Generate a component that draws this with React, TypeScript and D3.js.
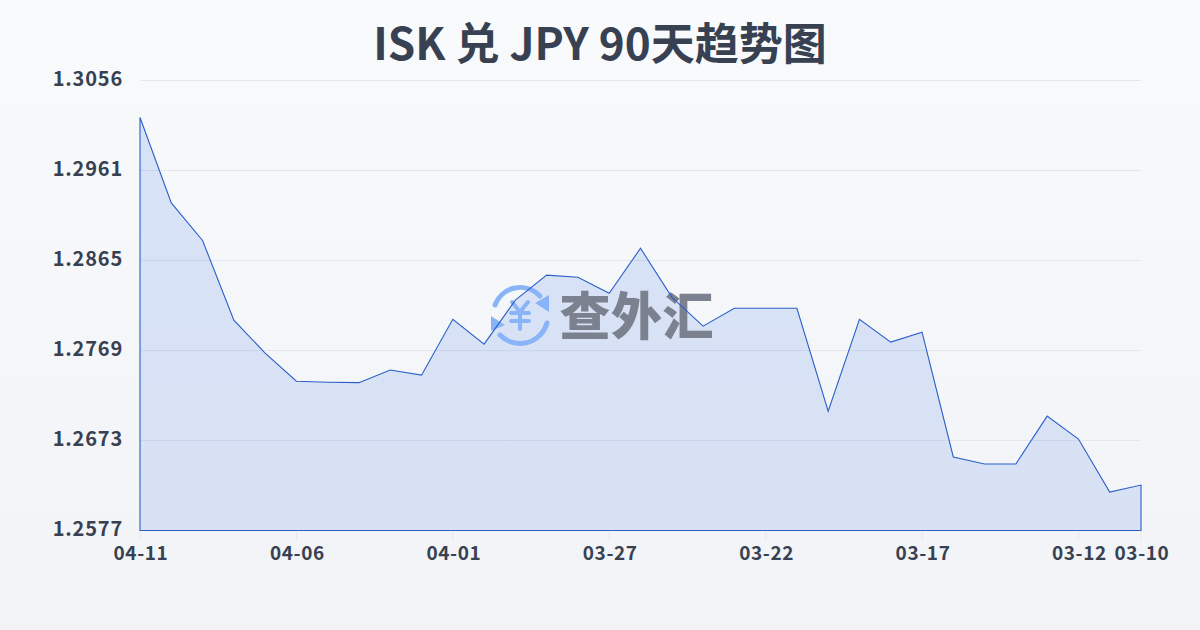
import React, { useEffect } from "react";
import * as d3 from "d3";

const titleText = "ISK 兑 JPY 90天趋势图";
const dates = ["04-11","04-10","04-09","04-08","04-07","04-06","04-05","04-04","04-03","04-02","04-01","03-31","03-30","03-29","03-28","03-27","03-26","03-25","03-24","03-23","03-22","03-21","03-20","03-19","03-18","03-17","03-16","03-15","03-14","03-13","03-12","03-11","03-10"];
const values = [1.3017,1.2926,1.2886,1.2801,1.2766,1.2736,1.2735,1.27345,1.2748,1.27425,1.2802,1.27755,1.28224,1.2849,1.28468,1.28298,1.28777,1.28256,1.27947,1.28138,1.28138,1.28138,1.27042,1.2802,1.27777,1.27883,1.26553,1.26478,1.26478,1.26989,1.26744,1.2618,1.26254];
const yTicks = [1.30564,1.296052,1.286464,1.276876,1.267288,1.2577];
const xTickLabels = ["04-11","04-06","04-01","03-27","03-22","03-17","03-12","03-10"];
const watermarkText = ["查","外","汇"];

const W = 1200, H = 630;
const L = 140, R = 1141, T = 80.5, B = 530.5;
const FONT = "'Noto Sans CJK SC',sans-serif";

export default function App() {
  useEffect(() => { document.body.style.margin = "0"; }, []);
  const x = d3.scalePoint<string>().domain(dates).range([L, R]);
  const y = d3.scaleLinear().domain([yTicks[5], yTicks[0]]).range([B, T]);
  const area = d3.area<number>()
    .x((_, i) => x(dates[i]) as number)
    .y0(B)
    .y1(d => y(d));
  return (
    <svg width={W} height={H} viewBox={`0 0 ${W} ${H}`} style={{ display: "block" }}>
      <defs>
        <linearGradient id="bg" x1="0" y1="0" x2="0" y2="1">
          <stop offset="0" stopColor="#f8fafc" />
          <stop offset="1" stopColor="#f1f3f6" />
        </linearGradient>
        <linearGradient id="fillG" gradientUnits="userSpaceOnUse" x1="0" y1={T} x2="0" y2={B}>
          <stop offset="0" stopColor="#2a64e0" stopOpacity={0.15} />
          <stop offset="1" stopColor="#2a64e0" stopOpacity={0.13} />
        </linearGradient>
      </defs>
      <rect width={W} height={H} fill="url(#bg)" />
      <text x={600} y={60} textAnchor="middle" fontFamily={FONT} fontWeight={700} fontSize={44} fill="#374151">{titleText}</text>
      {yTicks.map(t => (
        <g key={t}>
          <line x1={L} x2={R} y1={y(t)} y2={y(t)} stroke="#e3e6ec" strokeWidth={1} />
          <text x={123} y={y(t) + 5.5} textAnchor="end" fontFamily={FONT} fontWeight={700} fontSize={20} letterSpacing={0.8} fill="#374151">{t.toFixed(4)}</text>
        </g>
      ))}
      {xTickLabels.map(lbl => {
        const px = x(lbl) as number;
        return (
          <g key={lbl}>
            <line x1={px} x2={px} y1={B} y2={B + 10} stroke="#e6e8ec" strokeWidth={1} />
            <text x={px + 1} y={560} textAnchor="middle" fontFamily={FONT} fontWeight={700} fontSize={19} letterSpacing={0.6} fill="#374151">{lbl}</text>
          </g>
        );
      })}
      <path d={area(values) as string} fill="url(#fillG)" />
      <g>
        <g fill="none" stroke="#8ab4f8" strokeWidth={5} strokeLinecap="round">
          <path d="M 495 305 A 27 27 0 0 1 540 296" />
          <path d="M 547 323 A 28 28 0 0 1 500 335" />
        </g>
        <path d="M 549 295 L 549 312 L 535 303 Z" fill="#8ab4f8" />
        <path d="M 491 316 L 491 331 L 505 325 Z" fill="#8ab4f8" />
        <g fill="none" stroke="#8ab4f8" strokeWidth={4} strokeLinecap="round">
          <path d="M 512 302 L 520 312 L 528 302" />
          <path d="M 511 313 L 529 313" />
          <path d="M 511 321 L 529 321" />
          <path d="M 520 312 L 520 329" />
        </g>
        {watermarkText.map((c, i) => (
          <text key={c} x={585 + i * 51.5} y={335} textAnchor="middle" fontFamily="'Noto Sans CJK SC',sans-serif" fontWeight={900} fontSize={51} fill="#7b818f">{c}</text>
        ))}
      </g>
      <path d={area(values) as string} fill="none" stroke="#2a5fc9" strokeWidth={1.1} />
    </svg>
  );
}
